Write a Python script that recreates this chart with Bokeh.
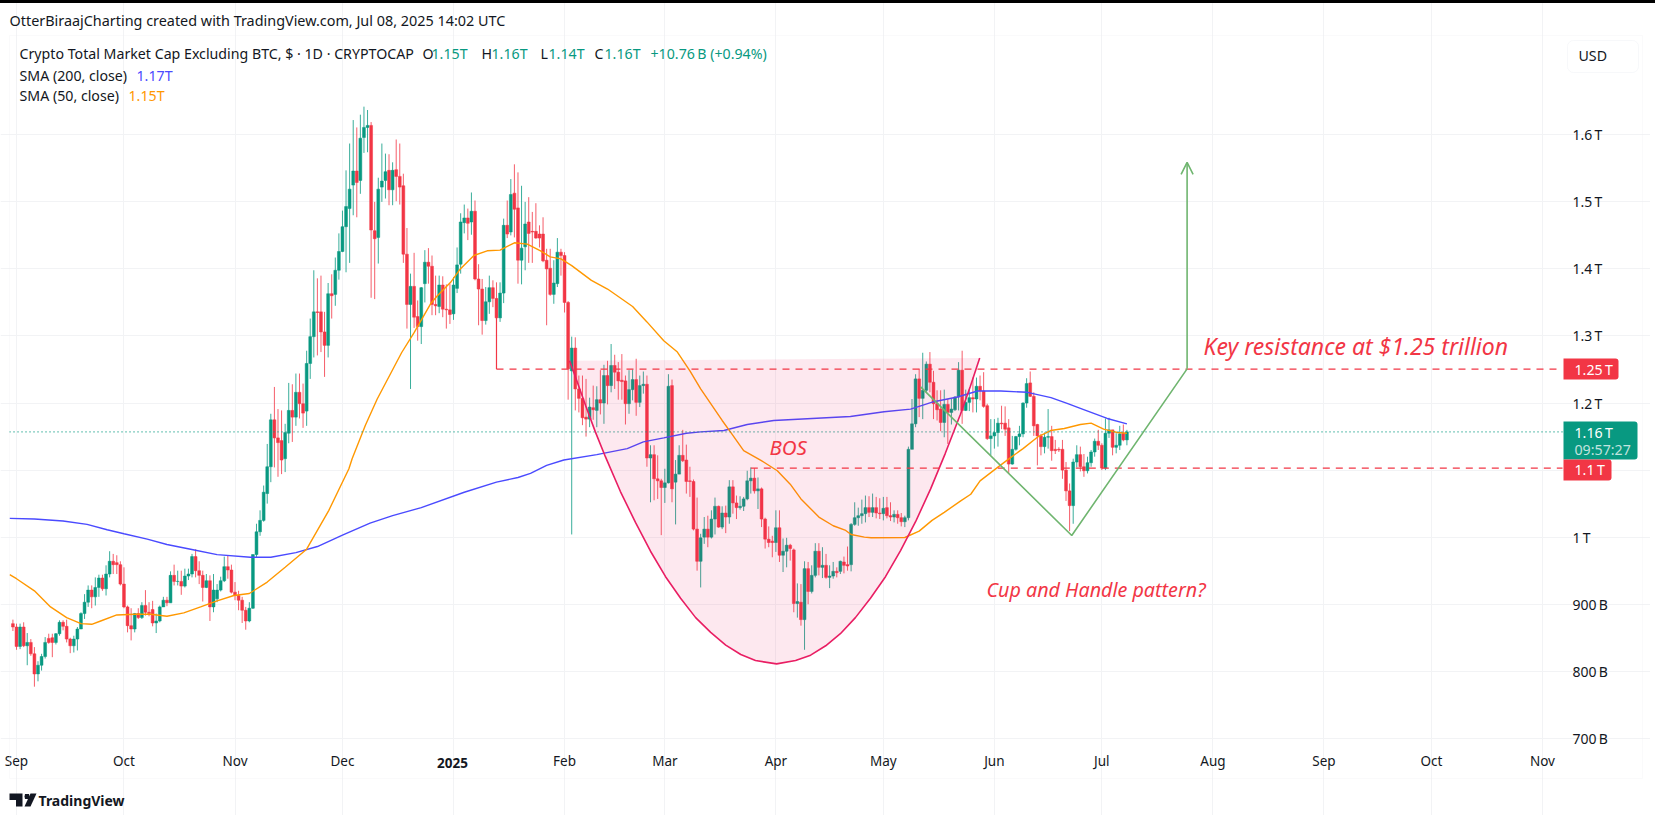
from bokeh.plotting import figure
from bokeh.models import (ColumnDataSource, Range1d, LinearAxis, FixedTicker, Label,
                          BoxAnnotation, PolyAnnotation, Arrow, OpenHead, Grid)
from bokeh.embed import file_html
from bokeh.resources import INLINE

# ---------- data (values in trillions of USD, days counted from 2024-09-01) ----------
days = list(range(-1, 311))
opens = [.871,.866,.837,.866,.838,.843,.826,.796,.809,.822,
 .849,.850,.843,.856,.873,.867,.848,.838,.848,.863,
 .886,.903,.921,.911,.925,.939,.923,.945,.964,.962,
 .959,.930,.896,.868,.863,.886,.880,.898,.888,.892,
 .872,.875,.896,.906,.902,.943,.934,.934,.927,.942,
 .945,.971,.950,.943,.925,.935,.896,.908,.921,.935,
 .956,.951,.918,.913,.906,.891,.875,.894,.974,1.008,
 1.025,1.065,1.105,1.175,1.148,1.144,1.117,1.155,1.189,1.179,
 1.216,1.199,1.188,1.259,1.299,1.336,1.336,1.306,1.286,1.363,
 1.362,1.398,1.426,1.463,1.490,1.525,1.546,1.532,1.596,1.611,
 1.614,1.457,1.447,1.522,1.532,1.547,1.518,1.548,1.538,1.524,
 1.422,1.347,1.374,1.329,1.314,1.378,1.410,1.404,1.347,1.344,
 1.376,1.340,1.339,1.333,1.371,1.407,1.469,1.476,1.470,1.486,
 1.385,1.370,1.323,1.351,1.372,1.356,1.327,1.364,1.465,1.455,
 1.513,1.491,1.413,1.433,1.470,1.456,1.456,1.452,1.452,1.413,
 1.401,1.362,1.378,1.425,1.420,1.350,1.248,1.282,1.221,1.207,
 1.179,1.176,1.193,1.189,1.205,1.200,1.241,1.226,1.256,1.246,
 1.234,1.233,1.199,1.220,1.235,1.201,1.226,1.228,1.118,1.123,
 1.087,1.084,1.074,1.081,1.226,1.082,1.094,1.122,1.115,1.084,
 1.083,1.012,.964,1.000,1.012,1.000,1.027,1.046,1.015,1.036,
 1.030,1.075,1.051,1.044,1.046,1.057,1.084,1.088,1.069,1.072,
 1.027,.997,.994,.992,1.014,.973,.979,.988,.981,.901,
 .903,.877,.953,.919,.943,.979,.955,.958,.940,.942,
 .949,.949,.963,.959,.959,1.019,1.029,1.032,1.035,1.044,
 1.037,1.044,1.036,1.035,1.044,1.032,1.030,1.034,1.029,1.023,
 1.029,1.131,1.169,1.236,1.207,1.219,1.258,1.231,1.199,1.191,
 1.171,1.198,1.186,1.190,1.209,1.249,1.189,1.201,1.208,1.206,
 1.225,1.218,1.196,1.147,1.151,1.156,1.170,1.170,1.163,1.109,
 1.131,1.150,1.154,1.200,1.230,1.210,1.168,1.151,1.135,1.149,
 1.150,1.131,1.131,1.131,1.100,1.069,1.047,1.112,1.123,1.105,
 1.099,1.111,1.127,1.143,1.137,1.103,1.155,1.160,1.134,1.137,1.155,1.145]
highs = [.877,.871,.871,.873,.857,.848,.836,.815,.826,.851,
 .856,.856,.857,.876,.876,.877,.850,.853,.866,.888,
 .915,.928,.928,.940,.944,.944,.958,.979,.975,.973,
 .964,.955,.898,.894,.887,.894,.903,.921,.903,.905,
 .886,.898,.911,.911,.949,.959,.950,.950,.953,.953,
 .975,.982,.964,.950,.945,.943,.945,.930,.941,.971,
 .973,.959,.933,.920,.911,.896,.903,.974,1.020,1.040,
 1.077,1.139,1.184,1.224,1.191,1.189,1.169,1.230,1.228,1.244,
 1.244,1.229,1.278,1.326,1.398,1.386,1.390,1.336,1.379,1.392,
 1.417,1.453,1.487,1.547,1.587,1.622,1.611,1.630,1.642,1.637,
 1.619,1.500,1.536,1.587,1.572,1.571,1.559,1.593,1.587,1.542,
 1.461,1.393,1.424,1.353,1.373,1.428,1.431,1.420,1.390,1.390,
 1.389,1.377,1.378,1.388,1.432,1.483,1.496,1.490,1.514,1.502,
 1.407,1.385,1.373,1.390,1.383,1.380,1.380,1.475,1.502,1.534,
 1.556,1.544,1.524,1.500,1.507,1.485,1.498,1.465,1.477,1.430,
 1.430,1.413,1.446,1.430,1.425,1.352,1.299,1.298,1.241,1.241,
 1.236,1.208,1.226,1.225,1.249,1.257,1.263,1.288,1.272,1.261,
 1.273,1.241,1.249,1.250,1.266,1.241,1.247,1.241,1.137,1.137,
 1.122,1.087,1.102,1.243,1.235,1.115,1.137,1.160,1.138,1.105,
 1.086,1.059,1.005,1.030,1.032,1.040,1.059,1.047,1.046,1.047,
 1.085,1.085,1.062,1.061,1.060,1.099,1.104,1.103,1.089,1.074,
 1.029,1.016,1.002,1.040,1.040,.998,.999,.990,.983,.931,
 .930,.964,.963,.958,.991,.991,.985,.975,.958,.963,
 .955,.965,.971,.986,1.021,1.052,1.044,1.056,1.062,1.061,
 1.065,1.060,1.058,1.060,1.060,1.052,1.040,1.040,1.036,1.032,
 1.135,1.206,1.243,1.251,1.275,1.262,1.276,1.248,1.219,1.219,
 1.220,1.206,1.206,1.210,1.261,1.278,1.220,1.221,1.238,1.238,
 1.241,1.246,1.199,1.176,1.176,1.178,1.196,1.195,1.176,1.151,
 1.151,1.166,1.201,1.237,1.247,1.216,1.169,1.154,1.156,1.191,
 1.166,1.145,1.134,1.145,1.112,1.080,1.117,1.137,1.135,1.124,
 1.120,1.130,1.147,1.160,1.140,1.177,1.178,1.160,1.155,1.166,1.168,1.160]
lows = [.860,.832,.833,.836,.809,.823,.777,.785,.801,.819,
 .841,.821,.840,.853,.861,.843,.827,.828,.831,.863,
 .878,.896,.894,.898,.911,.920,.913,.940,.945,.945,
 .928,.894,.858,.846,.858,.878,.878,.883,.882,.867,
 .857,.873,.896,.897,.902,.928,.928,.914,.925,.936,
 .940,.940,.930,.904,.924,.875,.888,.903,.919,.933,
 .938,.916,.906,.891,.872,.862,.873,.893,.970,1.002,
 1.023,1.050,1.082,1.104,1.090,1.094,1.097,1.140,1.142,1.166,
 1.177,1.163,1.166,1.236,1.268,1.271,1.276,1.239,1.268,1.326,
 1.345,1.384,1.425,1.395,1.409,1.480,1.477,1.512,1.573,1.574,
 1.357,1.355,1.408,1.500,1.505,1.495,1.495,1.501,1.496,1.409,
 1.311,1.221,1.312,1.293,1.288,1.350,1.378,1.331,1.331,1.334,
 1.328,1.311,1.318,1.324,1.364,1.393,1.453,1.443,1.451,1.383,
 1.316,1.302,1.317,1.333,1.343,1.326,1.321,1.349,1.446,1.450,
 1.447,1.378,1.377,1.398,1.409,1.409,1.445,1.432,1.410,1.316,
 1.360,1.348,1.373,1.390,1.335,1.205,1.004,1.189,1.186,1.167,
 1.150,1.164,1.175,1.164,1.183,1.169,1.198,1.216,1.221,1.205,
 1.205,1.168,1.184,1.204,1.181,1.194,1.214,1.105,1.052,1.055,
 1.057,1.003,1.051,1.080,1.052,1.019,1.094,1.112,1.065,1.060,
 1.010,.950,.925,.990,.985,.998,1.004,1.014,1.012,1.006,
 1.020,1.035,1.027,1.041,1.039,1.055,1.065,1.065,1.042,1.015,
 .983,.985,.970,.978,.963,.948,.955,.965,.888,.880,
 .868,.832,.900,.916,.940,.943,.939,.938,.924,.938,
 .940,.945,.946,.950,.949,1.017,1.017,1.020,1.022,1.030,
 1.030,1.028,1.027,1.025,1.028,1.024,1.022,1.020,1.016,1.015,
 1.025,1.131,1.164,1.179,1.176,1.216,1.216,1.176,1.174,1.158,
 1.149,1.139,1.168,1.188,1.189,1.169,1.188,1.188,1.186,1.186,
 1.204,1.193,1.145,1.122,1.132,1.135,1.161,1.151,1.095,1.108,
 1.129,1.137,1.149,1.193,1.209,1.151,1.107,1.122,1.125,1.132,
 1.114,1.124,1.127,1.087,1.054,1.009,1.020,1.104,1.098,1.090,
 1.095,1.105,1.120,1.130,1.100,1.100,1.148,1.122,1.125,1.130,1.143,1.137]
closes = [.866,.837,.866,.838,.843,.826,.796,.809,.822,.843,
 .843,.843,.856,.873,.867,.848,.838,.848,.863,.886,
 .903,.921,.911,.925,.939,.923,.945,.964,.959,.959,
 .930,.896,.868,.863,.886,.880,.898,.888,.886,.872,
 .875,.896,.906,.902,.943,.934,.934,.927,.942,.945,
 .971,.950,.943,.925,.935,.896,.921,.921,.935,.956,
 .951,.918,.913,.906,.891,.875,.894,.974,1.008,1.025,
 1.067,1.105,1.175,1.148,1.141,1.115,1.156,1.189,1.179,1.216,
 1.199,1.185,1.259,1.299,1.336,1.335,1.306,1.286,1.363,1.360,
 1.398,1.426,1.463,1.493,1.519,1.546,1.529,1.595,1.611,1.614,
 1.458,1.445,1.519,1.531,1.545,1.518,1.547,1.538,1.522,1.422,
 1.347,1.374,1.328,1.314,1.372,1.410,1.404,1.347,1.345,1.376,
 1.340,1.339,1.332,1.376,1.406,1.470,1.476,1.468,1.486,1.385,
 1.370,1.323,1.351,1.372,1.356,1.327,1.364,1.465,1.452,1.511,
 1.489,1.413,1.431,1.467,1.453,1.455,1.446,1.446,1.412,1.400,
 1.362,1.379,1.425,1.420,1.350,1.251,1.282,1.221,1.207,1.178,
 1.176,1.194,1.190,1.205,1.200,1.241,1.226,1.256,1.246,1.233,
 1.232,1.199,1.220,1.235,1.201,1.226,1.228,1.118,1.123,1.087,
 1.084,1.074,1.081,1.225,1.072,1.094,1.122,1.114,1.083,1.083,
 1.012,.964,.999,1.012,1.000,1.027,1.046,1.015,1.036,1.030,
 1.075,1.051,1.044,1.046,1.057,1.084,1.088,1.069,1.072,1.027,
 .997,.992,.992,1.014,.973,.979,.988,.983,.901,.904,
 .877,.953,.919,.943,.979,.955,.958,.940,.942,.949,
 .947,.964,.958,.957,1.019,1.029,1.032,1.035,1.044,1.037,
 1.044,1.036,1.035,1.043,1.032,1.030,1.034,1.029,1.023,1.029,
 1.131,1.169,1.236,1.207,1.219,1.258,1.231,1.199,1.190,1.171,
 1.198,1.186,1.191,1.209,1.249,1.189,1.201,1.208,1.206,1.225,
 1.218,1.195,1.147,1.151,1.156,1.170,1.169,1.161,1.109,1.131,
 1.150,1.154,1.200,1.229,1.210,1.166,1.151,1.135,1.149,1.150,
 1.129,1.129,1.130,1.100,1.069,1.047,1.112,1.123,1.105,1.099,
 1.111,1.127,1.143,1.137,1.103,1.155,1.160,1.134,1.137,1.154,1.145,1.157]

sma50_days = [-1.9,0,5,9.5,14,18,21,23.5,28,33,37.5,42,46.7,51.4,56,60.7,65,70,75,81,87.2,92.8,93.7,97.4,100.7,
 107.5,111,115.6,117.5,121.2,123.9,127.7,131.4,135,139,142.6,146.3,149,152,155,160.5,165,172,176,180.7,184.5,188,191,
 197,199.3,203,207.7,212.4,216,219,224,228,231.5,233,236.7,238.6,248,252,255.6,259,263.6,266.4,269,273.9,277.6,281,285,288.7,292.5,297,300,303.5,307.3,310]
sma50_vals = [.944,.938,.920,.896,.880,.871,.870,.875,.884,.885,.885,.882,.887,.896,.905,.913,.916,.933,.955,.982,1.040,1.102,1.117,1.167,1.206,
 1.275,1.305,1.348,1.360,1.380,1.400,1.420,1.427,1.428,1.439,1.437,1.427,1.418,1.415,1.405,1.383,1.370,1.344,1.321,1.293,1.276,1.248,1.221,
 1.174,1.157,1.129,1.115,1.099,1.079,1.057,1.030,1.017,1.010,1.004,1.000,.999,.9995,1.009,1.025,1.037,1.054,1.064,1.084,1.104,1.119,1.132,1.149,1.159,1.162,1.168,1.170,1.161,1.156,1.155]
sma200_days = [-1.9,5,13,19.7,25.3,30,36.5,42,48.6,56,65.3,71,78,84,91,98.7,105,113,125,134,140,143.5,148,152.8,162,170.5,175,180.7,187,191,197.5,204,211.4,
 232.8,242.2,249.6,256.1,262.7,268.3,274.8,282.2,288.8,293.5,297,304.5,310]
sma200_vals = [1.028,1.027,1.024,1.019,1.011,1.005,.997,.989,.982,.974,.970,.970,.977,.986,1.003,1.021,1.032,1.044,1.067,1.082,1.089,1.095,1.107,1.115,1.123,1.132,1.142,1.148,1.155,1.157,1.159,1.168,1.174,
 1.180,1.187,1.191,1.202,1.209,1.218,1.218,1.216,1.208,1.199,1.192,1.177,1.169]

cup_days = [154.4,156.1,158.9,161.6,164.4,168.6,172.8,177,181.2,185.4,189.6,193.8,198,202.2,206.3,212.2,
 217.5,221.7,225.9,230,234.2,238.4,242.6,246.8,251,255.2,259.3,263.5,266.3,268.9]
cup_vals = [1.263,1.238,1.196,1.157,1.120,1.068,1.022,.979,.941,.909,.880,.858,.839,.825,.816,.811,
 .816,.824,.838,.856,.880,.909,.941,.980,1.023,1.072,1.125,1.183,1.225,1.267]
handle_days = [252.4,294.6,326.8]
handle_vals = [1.224,1.0025,1.251]
target_day = 326.8
target_val = 1.559

level_start_day = 134
level_top_val = 1.327
resistance_val = 1.2505
support_day = 205
support_val = 1.103
pane_end_day = 431.6
pane_start_day = -1.95
pane_bottom_val = 0.692
pane_top_val = 1.748
last_close = 1.157

month_ticks = [0,30,61,91,122,153,181,212,242,273,303,334,365,395,426]
month_labels = ["Sep","Oct","Nov","Dec","","Feb","Mar","Apr","May","Jun","Jul","Aug","Sep","Oct","Nov"]
price_ticks = [.7,.8,.9,1.0,1.1,1.2,1.3,1.4,1.5,1.6]
price_labels = ["700\u2009B","800\u2009B","900\u2009B","1\u2009T","1.1\u2009T","1.2\u2009T","1.3\u2009T","1.4\u2009T","1.5\u2009T","1.6\u2009T"]

# ---------- style ----------
UP, DOWN = "#089981", "#f23645"
INK, GRID = "#131722", "#f2f3f5"
BLUE, ORANGE = "#4a4aff", "#ff9800"
GREEN, PINK = "#6fb56f", "#e91e63"
FONT = "Noto Sans"
W, H = 1650, 815

# The plot frame fills the whole canvas so that texts and price tags outside the pane are not clipped.
p = figure(width=W, height=H, output_backend="svg", toolbar_location=None,
           x_range=Range1d(-4.467, 456.17), y_range=Range1d(0.5849, 1.8003),
           min_border=0, x_axis_location=None, y_axis_location=None)
p.background_fill_color = "white"
p.border_fill_color = "white"
p.outline_line_color = None
p.grid.visible = False

p.add_layout(Grid(dimension=0, ticker=FixedTicker(ticks=month_ticks), grid_line_color=GRID,
                  bounds=(pane_bottom_val, pane_top_val)))
p.add_layout(Grid(dimension=1, ticker=FixedTicker(ticks=price_ticks), grid_line_color=GRID,
                  bounds=(pane_start_day, pane_end_day)))

xa = LinearAxis(fixed_location=pane_bottom_val, ticker=FixedTicker(ticks=month_ticks),
                major_label_overrides=dict(zip(month_ticks, month_labels)))
ya = LinearAxis(fixed_location=pane_end_day, ticker=FixedTicker(ticks=price_ticks),
                major_label_overrides=dict(zip(price_ticks, price_labels)))
for ax in (xa, ya):
    ax.axis_line_color = None
    ax.major_tick_line_color = None
    ax.minor_tick_line_color = None
    ax.major_tick_in = 0
    ax.major_tick_out = 0
    ax.major_label_text_font = FONT
    ax.major_label_text_color = INK
xa.major_label_text_font_size = "13.5px"
ya.major_label_text_font_size = "14px"
xa.major_label_standoff = 8
ya.major_label_standoff = 10
p.add_layout(xa, "below")
p.add_layout(ya, "right")

# candles
colors = [UP if c >= o else DOWN for o, c in zip(opens, closes)]
src = ColumnDataSource(dict(x=days, h=highs, l=lows,
                            top=[max(o, c) for o, c in zip(opens, closes)],
                            bottom=[min(o, c) for o, c in zip(opens, closes)],
                            color=colors))
p.segment("x", "h", "x", "l", source=src, line_color="color", line_width=1, line_alpha=0.8)
p.vbar("x", 0.8, "top", "bottom", source=src, fill_color="color", line_color="color", line_width=0.5)

# moving averages
p.line(sma200_days, sma200_vals, line_color=BLUE, line_width=1.4)
p.line(sma50_days, sma50_vals, line_color=ORANGE, line_width=1.4)

# last price line
p.line([pane_start_day, pane_end_day], [last_close, last_close], line_color=UP, line_width=1.2, line_dash=[1, 3])

# cup drawing
p.patch(cup_days, cup_vals, fill_color=PINK, fill_alpha=0.1, line_color=None)
p.line(cup_days, cup_vals, line_color=PINK, line_width=1.6)

# levels
p.line([level_start_day, level_start_day], [level_top_val, resistance_val], line_color=DOWN, line_width=1.2)
p.line([level_start_day, pane_end_day], [resistance_val, resistance_val], line_color=DOWN, line_width=1.2, line_dash=[7, 6])
p.line([support_day, pane_end_day], [support_val, support_val], line_color=DOWN, line_width=1.2, line_dash=[7, 6])

# handle path and target arrow
p.line(handle_days, handle_vals, line_color=GREEN, line_width=1.6)
p.add_layout(Arrow(end=OpenHead(size=12, line_color=GREEN, line_width=1.6),
                   x_start=handle_days[-1], y_start=handle_vals[-1],
                   x_end=target_day, y_end=target_val,
                   line_color=GREEN, line_width=1.6))

def text(s, x, y, color=INK, size=14.2, style="normal", align="left", alpha=1.0):
    p.add_layout(Label(x=x, y=H-y, x_units="screen", y_units="screen", text=s,
                       text_color=color, text_font=FONT, text_font_size=f"{size}px",
                       text_font_style=style, text_align=align, text_baseline="middle",
                       text_alpha=alpha, level="overlay"))

def box(l, r, t, b, fill, line=None, radius=0):
    p.add_layout(BoxAnnotation(left=l, right=r, top=H-t, bottom=H-b,
                               left_units="screen", right_units="screen",
                               top_units="screen", bottom_units="screen",
                               fill_color=fill or "white", fill_alpha=1 if fill else 0,
                               line_color=line, line_width=1, border_radius=radius,
                               level="overlay"))

# outer frame
box(9, 1642, 35, 778, None, line="#edeff3")

# price scale widgets (before their texts, so the texts sit on top)
box(1567, 1638, 40, 72, "white", line="#e6e8ee", radius=6)
box(1563, 1618, 358, 379, DOWN, radius=(0, 3, 3, 0))
box(1563, 1637, 421, 459, UP, radius=(0, 3, 3, 0))
box(1563, 1611, 459, 480, DOWN, radius=(0, 3, 3, 0))

# header and legend
text("OtterBiraajCharting created with TradingView.com, Jul 08, 2025 14:02 UTC", 9, 20, size=14.4)
text("Crypto Total Market Cap Excluding BTC, $ \u00b7 1D \u00b7 CRYPTOCAP", 19, 53)
for s, x, c in [("O", 422, INK), ("1.15T", 431, UP), ("H", 481, INK), ("1.16T", 491, UP),
                ("L", 540, INK), ("1.14T", 548, UP), ("C", 594, INK), ("1.16T", 604, UP),
                ("+10.76\u2009B (+0.94%)", 650, UP)]:
    text(s, x, 53, color=c)
text("SMA (200, close)", 19, 75)
text("1.17T", 136, 75, color=BLUE)
text("SMA (50, close)", 19, 95)
text("1.15T", 128, 95, color=ORANGE)

# chart annotations
text("Key resistance at $1.25 trillion", 1203, 345, color=DOWN, size=23, style="italic")
text("BOS", 769, 446, color=DOWN, size=20.5, style="italic")
text("Cup and Handle pattern?", 986, 589, color=DOWN, size=19.7, style="italic")

# x axis year label
text("2025", 452, 762, size=13.5, style="bold", align="center")

# price scale texts
text("USD", 1578, 55)
text("1.25\u2009T", 1574, 368.5, color="white")
text("1.16\u2009T", 1574, 432, color="white")
text("09:57:27", 1574, 449, color="white", alpha=0.75)
text("1.1\u2009T", 1574, 469, color="white")

# footer logo
def poly(xs, ys):
    p.add_layout(PolyAnnotation(xs=list(xs), ys=[H-y for y in ys],
                                xs_units="screen", ys_units="screen",
                                fill_color=INK, fill_alpha=1, line_color=None, level="overlay"))
poly([9, 22, 22, 15.5, 15.5, 9], [793, 793, 806, 806, 799.5, 799.5])
poly([24.5, 28.5, 29, 28.5, 24.5, 24], [793.5, 793.5, 796, 798.5, 798.5, 796])
poly([24, 30, 36, 30], [806, 793, 793, 806])
text("TradingView", 38, 800, size=14, style="bold")

html = file_html(p, INLINE)
html = html.replace("</body>", '<div style="position:fixed;top:0;left:0;width:100%;height:3px;background:#000"></div></body>')
open("out.html", "w").write(html)
